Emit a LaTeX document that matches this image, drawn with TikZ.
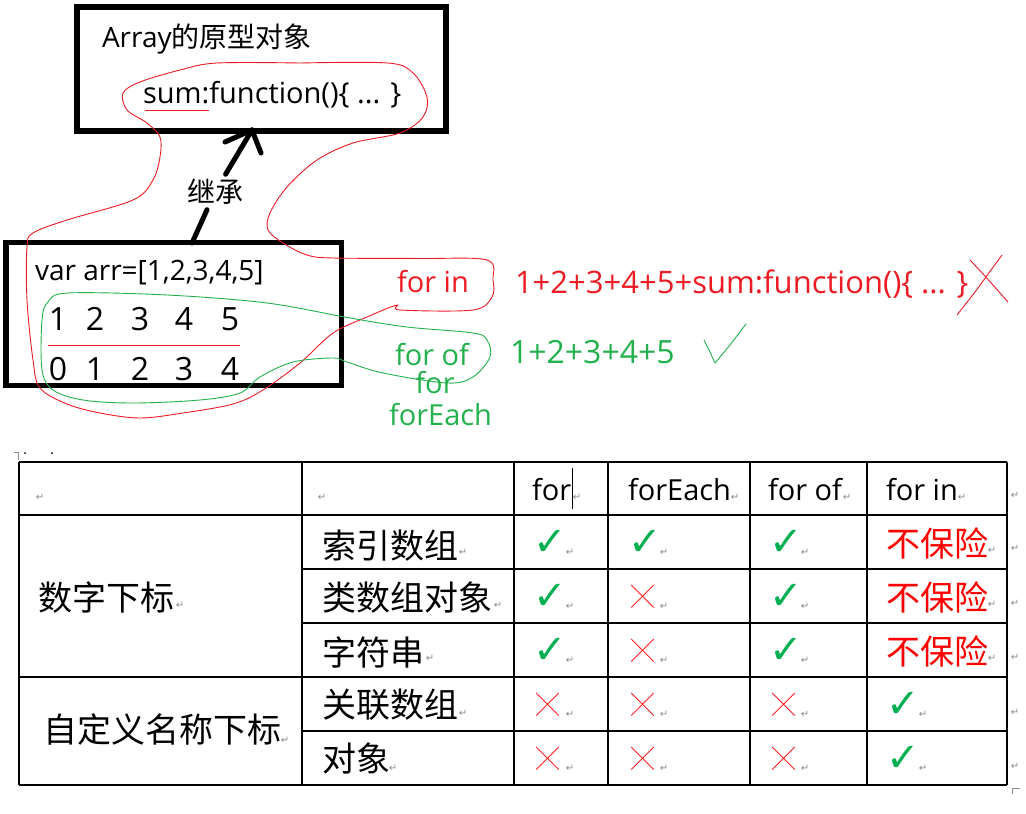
\documentclass[tikz,border=0pt]{standalone}
\usepackage{fontspec}
\setmainfont{Open Sans}
\newfontfamily\cjk{Noto Sans CJK SC}
\newfontfamily\symf{DejaVu Sans}
\newcommand\fsz[1]{\fontsize{#1pt}{#1pt}\selectfont}
\definecolor{hred}{RGB}{237,28,36}
\definecolor{hgreen}{RGB}{34,177,76}
\definecolor{tred}{RGB}{255,0,0}
\definecolor{tgreen}{RGB}{0,176,80}
\begin{document}
\begin{tikzpicture}[x=1pt,y=-1pt,
  txt/.style={inner sep=0pt, outer sep=0pt},
  bigbox/.style={draw, line width=5.5pt, outer sep=0pt, inner sep=0pt, anchor=north west},
  arr/.style={line width=5pt, line cap=round},
  redline/.style={draw=hred, line width=0.9pt, line join=round},
  greenline/.style={draw=hgreen, line width=0.9pt, line join=round},
  para/.style={inner sep=0pt, text=black!45, font=\symf\fsz{10}},
  gridline/.style={line width=1.4pt},
  cn/.style={txt, anchor=west, font=\cjk\fsz{34}},
  chk/.style={txt, text=tgreen, font=\symf\fsz{40}},
  crs/.style={txt, text=tred, font=\cjk\fsz{23}},
  lat/.style={txt, anchor=base west, font=\fsz{28}},
]
\useasboundingbox (0,0) rectangle (1026,814);
\fill[white] (0,0) rectangle (1026,814);

% ---------- top box ----------
\node[bigbox, minimum width=369pt, minimum height=124pt] (proto) at (77,7) {};
\node[lat] (ptitle) at (102,47) {Array{\cjk 的原型对象}};
\node[lat, font=\fsz{29}] (psum) at (143,103) {sum:function()\{ ... \}};
\draw[draw=hred, line width=1pt] (psum.base west) ++(2,7) coordinate (ul1) -- ++(64,0) coordinate (ul2);

% ---------- bottom box ----------
\node[bigbox, minimum width=335.5pt, minimum height=143pt] (arrbox) at (6,242.5) {};
\node[lat, font=\fsz{28}] (vardecl) at (35,280) {var arr=[1,2,3,4,5]};
\foreach \v/\x in {1/58,2/95,3/140,4/184,5/230}
  \node[txt, anchor=base, font=\fsz{32}] (val\v) at (\x,330) {\v};
\foreach \v/\x in {0/58,1/95,2/140,3/184,4/230}
  \node[txt, anchor=base, font=\fsz{32}] (idx\v) at (\x,380) {\v};
\draw[draw=hred, line width=1pt] (48,345.5) coordinate (sep1) -- (240,345.5) coordinate (sep2);

% ---------- inherit arrow ----------
\node[txt, inner sep=5pt, font=\cjk\fsz{28}] (inh) at (215,192) {继承};
\coordinate (a0) at (192,243);
\coordinate (tip) at (252,130);
\draw[arr] (a0) -- (inh);
\draw[arr] (inh) -- (tip);
\draw[arr] (tip) -- (225,142);
\draw[arr] (tip) -- (261,153);

% ---------- hand-drawn loops ----------
\draw[redline] plot[smooth, tension=0.55] coordinates {
 (300,63) (388,63) (413,73) (427,97) (423,117) (400,133) (353,143) (317,160)
 (287,187) (270,213) (268,230) (283,243) (307,255) (333,258) (420,258.5) (487,260)
 (493,280) (492,297) (473,310) (400,310) (397,305) (367,317) (333,333) (300,363)
 (263,390) (233,404) (183,413) (140,418) (100,413) (67,404) (40,388) (33,360)
 (27,300) (27,247) (33,233) (67,220) (133,200) (153,180) (160,157) (160,137)
 (147,123) (127,110) (123,93) (140,82) (180,70) (217,63) (300,63)};
\draw[greenline] plot[smooth cycle, tension=0.55] coordinates {
 (68,293) (48,302) (42,320) (42,370) (53,390) (83,400) (133,403) (200,400)
 (240,393) (260,377) (293,362) (333,358) (347,362) (383,373) (447,383)
 (473,377) (490,357) (487,340) (473,333) (407,327) (350,318) (267,303) (167,295)};

% ---------- loop labels ----------
\node[lat, text=hred, font=\fsz{29}] (forin) at (397,292) {for in};
\node[lat, text=hgreen, font=\fsz{29}] (forof) at (395,365) {for of};
\node[txt, anchor=base, text=hgreen, font=\fsz{29}] (forl) at (435,393) {for};
\node[lat, text=hgreen, font=\fsz{29}] (foreach) at (389,425) {forEach};
\node[lat, text=hred, font=\fsz{31}] (resin) at (515,293) {1+2+3+4+5+sum:function()\{ ... \}};
\node[lat, text=hgreen, font=\fsz{32}] (resof) at (510,363) {1+2+3+4+5};
\draw[redline] (970,260) -- (985,276) -- (1008,302);
\draw[redline] (957,315) -- (975,292) -- (1002,255);
\draw[greenline] (704,340) -- (710,352) -- (715,363) -- (730,345) -- (746,324);

% ---------- table ----------
\draw[gridline, line width=2.2pt] (19,462) -- (1007,462);
\draw[gridline] (19,515) -- (1007,515);
\draw[gridline] (302,569) -- (1007,569);
\draw[gridline] (302,623) -- (1007,623);
\draw[gridline] (19,677) -- (1007,677);
\draw[gridline] (302,731) -- (1007,731);
\draw[gridline] (19,785) -- (1007,785);
\foreach \x in {19,302,514,608,750,867,1007}
  \draw[gridline] (\x,462) -- (\x,785);

% word marks
\draw[black!45, line width=0.8pt] (14,452) -- (18,452) -- (18,460);
\fill[black] (25,453) circle (1pt);
\fill[black] (52,453) circle (1pt);
\draw[black!45, line width=0.8pt] (1020,788) -- (1012,788) -- (1012,794);

% header
\node[lat, font=\fsz{29}] (hfor) at (532,500) {for};
\draw[line width=0.8pt] (572,468) coordinate (cur1) -- (572,509) coordinate (cur2);
\node[lat, font=\fsz{29}] (hforeach) at (628,500) {forEach};
\node[lat, font=\fsz{29}] (hforof) at (768,500) {for of};
\node[lat, font=\fsz{29}] (hforin) at (886,500) {for in};

% row headers
\node[cn] (numidx) at (38,598) {数字下标};
\node[cn] (namidx) at (43,730) {自定义名称下标};
\node[cn] (r1) at (322,546) {索引数组};
\node[cn] (r2) at (322,598) {类数组对象};
\node[cn] (r3) at (322,652) {字符串};
\node[cn] (r4) at (322,705) {关联数组};
\node[cn] (r5) at (322,758) {对象};

% marks
\foreach \y/\n in {543/1,597/2,651/3} {
  \node[chk] (c1\n) at (550,\y) {✓};
  \node[chk] (c3\n) at (786,\y) {✓};
  \node[cn, text=tred] (c4\n) at (886,\y) {不保险};
}
\node[chk] (c21) at (645,543) {✓};
\node[crs] (c22) at (643,597) {╳};
\node[crs] (c23) at (643,651) {╳};
\foreach \y/\n in {705/4,759/5} {
  \node[crs] (c1\n) at (548,\y) {╳};
  \node[crs] (c2\n) at (643,\y) {╳};
  \node[crs] (c3\n) at (784,\y) {╳};
  \node[chk] (c4\n) at (903,\y) {✓};
}

% paragraph marks
\foreach \x/\y [count=\i] in {40/497,322/497,577/497,735/497,847/497,962/497,1015/495,
  180/605,285/740,463/552,498/605,430/658,463/713,393/768,
  570/552,664/552,805/552,992/550,1015/548,
  570/606,664/606,805/606,992/604,1015/603,
  570/660,664/660,805/660,992/658,1015/657,
  570/714,664/714,805/714,923/714,1015/712,
  570/768,664/768,805/768,923/768,1015/766}
  \node[para] (pm\i) at (\x,\y) {↵};
\end{tikzpicture}
\end{document}
